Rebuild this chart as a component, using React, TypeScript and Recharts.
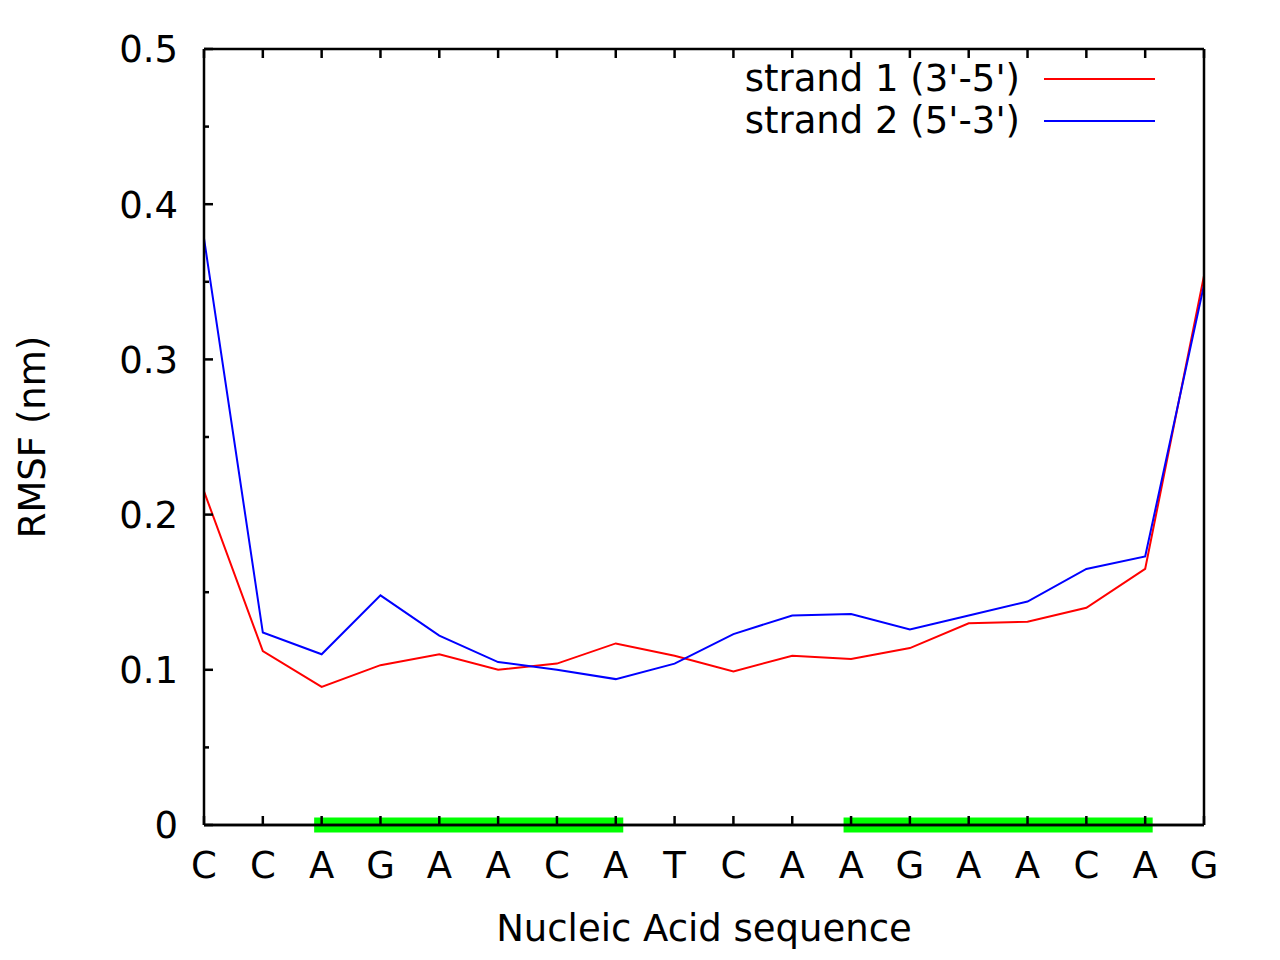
import { LineChart, Line, XAxis, YAxis, Legend, ReferenceLine } from "recharts";

const bases = ["C", "C", "A", "G", "A", "A", "C", "A", "T", "C", "A", "A", "G", "A", "A", "C", "A", "G"];
const strand1 = [0.215, 0.112, 0.089, 0.103, 0.110, 0.100, 0.104, 0.117, 0.109, 0.099, 0.109, 0.107, 0.114, 0.130, 0.131, 0.140, 0.165, 0.354];
const strand2 = [0.378, 0.124, 0.110, 0.148, 0.122, 0.105, 0.100, 0.094, 0.104, 0.123, 0.135, 0.136, 0.126, 0.135, 0.144, 0.165, 0.173, 0.348];
// green bars on the axis: index ranges of the two marked regions
const helixA = [2, 7];
const helixB = [11, 16];
const yTicks = [0, 0.05, 0.1, 0.15, 0.2, 0.25, 0.3, 0.35, 0.4, 0.45, 0.5];
const yLabelled = [0, 0.1, 0.2, 0.3, 0.4, 0.5];

const seriesColors: Record<string, string> = { s1: "#ff0000", s2: "#0000ff" };

const inRange = (i: number, r: number[]) => (i >= r[0] && i <= r[1] ? 0 : null);

const data = bases.map((b, i) => ({
    pos: i,
    base: b,
    s1: strand1[i],
    s2: strand2[i],
    hA: inRange(i, helixA),
    hB: inRange(i, helixB),
}));

const FONT = "DejaVu Sans";
const FS = 37;
const M = 26;

const isMajor = (v: number) => yLabelled.some(t => Math.abs(t - v) < 1e-9);

// eslint-disable-next-line @typescript-eslint/no-explicit-any
const YTick = (props: any) => {
    const { x, y, payload, side } = props;
    const major = isMajor(payload.value);
    const len = major ? 9 : 5;
    const ax = side === "left" ? x + M : x - M;
    const x2 = side === "left" ? ax + len : ax - len;
    return (
        <g>
            <line x1={ax} x2={x2} y1={y} y2={y} stroke="#000" strokeWidth={2.5} />
            {side === "left" && major && (
                <text x={ax - M} y={y} dy="0.36em" textAnchor="end" fontFamily={FONT} fontSize={FS} fill="#000">
                    {payload.value === 0 ? "0" : payload.value.toFixed(1)}
                </text>
            )}
        </g>
    );
};

// eslint-disable-next-line @typescript-eslint/no-explicit-any
const XTick = (props: any) => {
    const { x, y, payload, side } = props;
    const ay = side === "bottom" ? y - M : y + M;
    const y2 = side === "bottom" ? ay - 9 : ay + 9;
    return (
        <g>
            <line x1={x} x2={x} y1={ay} y2={y2} stroke="#000" strokeWidth={2.5} />
            {side === "bottom" && (
                <text x={x} y={ay + 53} textAnchor="middle" fontFamily={FONT} fontSize={FS} fill="#000">
                    {bases[payload.value]}
                </text>
            )}
        </g>
    );
};

// eslint-disable-next-line @typescript-eslint/no-explicit-any
const LegendBox = (props: any) => {
    // eslint-disable-next-line @typescript-eslint/no-explicit-any
    const items = (props.payload || []).filter((p: any) => p.dataKey === "s1" || p.dataKey === "s2");
    return (
        <div style={{ fontFamily: FONT, fontSize: FS, color: "#000" }}>
            {/* eslint-disable-next-line @typescript-eslint/no-explicit-any */}
            {items.map((p: any) => (
                <div key={p.value} style={{ display: "flex", alignItems: "center", justifyContent: "flex-end", height: 42 }}>
                    <span style={{ whiteSpace: "pre", lineHeight: "42px" }}>{p.value}</span>
                    <svg width={111} height={4} style={{ marginLeft: 24, display: "block" }}>
                        <line x1={0} x2={111} y1={2} y2={2} stroke={seriesColors[p.dataKey] || p.color} strokeWidth={2} />
                    </svg>
                </div>
            ))}
        </div>
    );
};

export default function App() {
    return (
        <div style={{ position: "absolute", left: 0, top: 0, background: "#fff" }}>
            <LineChart width={1280} height={960} data={data} margin={{ top: 0, right: 0, bottom: 0, left: 0 }}>
                <XAxis xAxisId="b" dataKey="pos" type="number" domain={[0, 17]} ticks={data.map(d => d.pos)}
                       orientation="bottom" height={135} tickSize={0} tickMargin={M} tickLine={false}
                       axisLine={{ stroke: "#000", strokeWidth: 2.5 }} interval={0}
                       tick={<XTick side="bottom" />}
                       label={{ value: "Nucleic Acid sequence", position: "bottom", offset: -45, fontFamily: FONT, fontSize: FS, fill: "#000" }} />
                <XAxis xAxisId="t" dataKey="pos" type="number" domain={[0, 17]} ticks={data.map(d => d.pos)}
                       orientation="top" height={49} tickSize={0} tickMargin={M} tickLine={false}
                       axisLine={{ stroke: "#000", strokeWidth: 2.5 }} interval={0}
                       tick={<XTick side="top" />} />
                <YAxis yAxisId="l" domain={[0, 0.5]} ticks={yTicks} width={204} orientation="left"
                       tickSize={0} tickMargin={M} tickLine={false} interval={0}
                       axisLine={{ stroke: "#000", strokeWidth: 2.5 }} tick={<YTick side="left" />}
                       label={{
                           // eslint-disable-next-line @typescript-eslint/no-explicit-any
                           content: (p: any) => {
                               const vb = p.viewBox;
                               const cx = vb.x + 32;
                               const cy = vb.y + vb.height / 2;
                               return (
                                   <text x={cx} y={cy} dy="0.36em" textAnchor="middle" transform={`rotate(-90, ${cx}, ${cy})`}
                                         fontFamily={FONT} fontSize={FS} fill="#000">RMSF (nm)</text>
                               );
                           },
                       }} />
                <YAxis yAxisId="r" domain={[0, 0.5]} ticks={yTicks} width={76} orientation="right"
                       tickSize={0} tickMargin={M} tickLine={false} interval={0}
                       axisLine={{ stroke: "#000", strokeWidth: 2.5 }} tick={<YTick side="right" />} />
                <Line xAxisId="b" yAxisId="l" dataKey="hA" name="hA" stroke="#00ff00" strokeWidth={15} strokeLinecap="square"
                      dot={false} connectNulls={false} isAnimationActive={false} legendType="none" />
                <Line xAxisId="b" yAxisId="l" dataKey="hB" name="hB" stroke="#00ff00" strokeWidth={15} strokeLinecap="square"
                      dot={false} connectNulls={false} isAnimationActive={false} legendType="none" />
                <ReferenceLine xAxisId="b" yAxisId="l" y={0} stroke="#000" strokeWidth={2.5} />
                <Line xAxisId="b" yAxisId="l" dataKey="s1" name="strand 1 (3'-5')" stroke="#ff0000" strokeWidth={2}
                      dot={false} isAnimationActive={false} />
                <Line xAxisId="b" yAxisId="l" dataKey="s2" name="strand 2 (5'-3')" stroke="#0000ff" strokeWidth={2}
                      dot={false} isAnimationActive={false} />
                <Legend content={<LegendBox />} layout="vertical" align="center" verticalAlign="middle"
                        wrapperStyle={{ position: "absolute", top: 58, right: 125, left: "auto", bottom: "auto", width: "auto" }} />
            </LineChart>
        </div>
    );
}
